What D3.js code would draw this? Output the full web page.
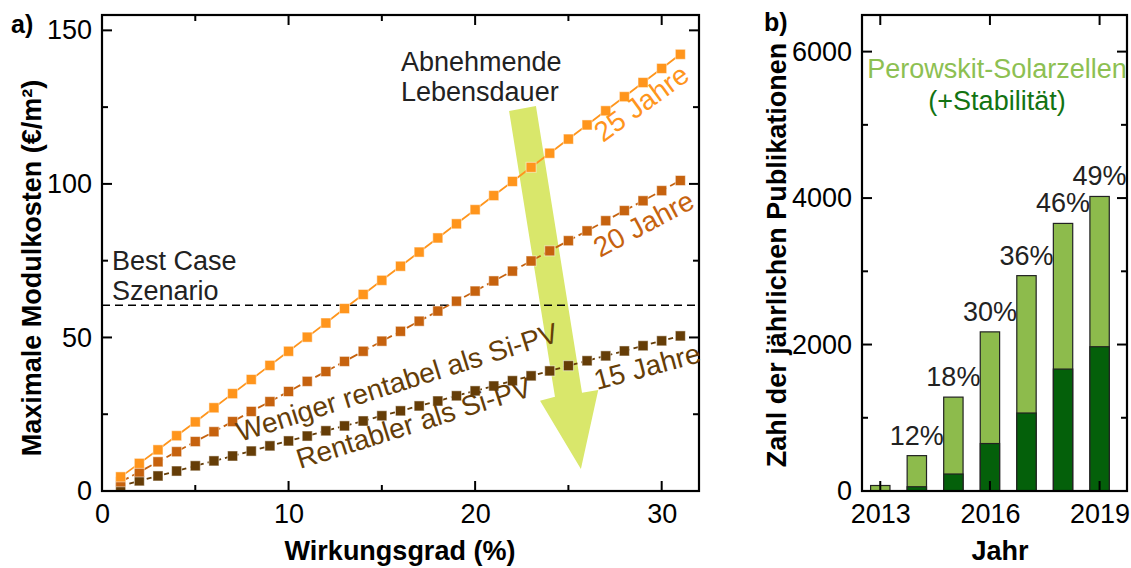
<!DOCTYPE html>
<html><head><meta charset="utf-8">
<script src="https://cdn.jsdelivr.net/npm/d3@7"></script>
<style>
body{margin:0;background:#fff;}
svg text{font-family:"Liberation Sans",Arial,sans-serif;}
</style></head>
<body><svg id="c" width="1131" height="568"></svg>
<script>
// ---------- DATA ----------
const efficiency = [1,2,3,4,5,6,7,8,9,10,11,12,13,14,15,16,17,18,19,20,21,22,23,24,25,26,27,28,29,30,31];
const cost25 = [4.6,9.0,13.4,18.0,22.5,27.1,31.7,36.3,40.9,45.5,50.1,54.7,59.4,64.0,68.6,73.2,77.8,82.4,87.0,91.6,96.2,100.8,105.4,110.0,114.6,119.2,123.8,128.4,133.0,137.6,142.2];
const cost20 = [3.0,6.2,9.5,12.8,16.1,19.3,22.6,25.9,29.1,32.4,35.7,38.9,42.2,45.5,48.8,52.0,55.3,58.6,61.8,65.1,68.4,71.6,74.9,78.2,81.5,84.7,88.0,91.3,94.5,97.8,101.1];
const cost15 = [1.6,3.3,4.9,6.5,8.2,9.8,11.4,13.0,14.7,16.3,17.9,19.6,21.2,22.8,24.5,26.1,27.7,29.3,31.0,32.6,34.2,35.9,37.5,39.1,40.8,42.4,44.0,45.6,47.3,48.9,50.5];
const bestCase = 60.5;
const xTicksA = [0,10,20,30];
const yTicksA = [0,50,100,150];

const years = [2013,2014,2015,2016,2017,2018,2019];
const pubTotal = [75,483,1282,2173,2941,3654,4022];
const pubStability = [4,58,232,648,1065,1665,1970];
const pubPct = ["","12%","18%","30%","36%","46%","49%"];
const xTicksB = [2013,2016,2019];
const yTicksB = [0,2000,4000,6000];

// ---------- SETUP ----------
const svg = d3.select("#c");
const FONT = 27;

const xA = d3.scaleLinear().domain([0,32]).range([102,699]);
const yA = d3.scaleLinear().domain([0,155]).range([491,15]);
const xB = d3.scaleLinear().domain([2012.5,2019.75]).range([862,1127]);
const yB = d3.scaleLinear().domain([0,6500]).range([491,15]);

function frame(g, x, y, xMaj, xMin, yMaj, yMin){
  const fmt = d3.format("d");
  const [x0,x1] = x.range(), [y0,y1] = y.range();
  const ax = d3.axisBottom(x).tickValues(xMaj).tickSize(0).tickPadding(13).tickFormat(fmt);
  const gb = g.append("g").attr("transform",`translate(0,${y0})`).call(ax);
  gb.select(".domain").remove();
  gb.selectAll("text").attr("font-size",FONT).attr("fill","#000").attr("font-family","Liberation Sans, Arial, sans-serif");
  const ay = d3.axisLeft(y).tickValues(yMaj).tickSize(0).tickPadding(10).tickFormat(fmt);
  const gl = g.append("g").attr("transform",`translate(${x0},0)`).call(ay);
  gl.select(".domain").remove();
  gl.selectAll("text").attr("font-size",FONT).attr("fill","#000").attr("font-family","Liberation Sans, Arial, sans-serif");
  const t = g.append("g").attr("stroke","#000").attr("stroke-width",2);
  xMaj.forEach(v=>{ t.append("line").attr("x1",x(v)).attr("x2",x(v)).attr("y1",y0).attr("y2",y0-10);
                    t.append("line").attr("x1",x(v)).attr("x2",x(v)).attr("y1",y1).attr("y2",y1+10); });
  xMin.forEach(v=>{ t.append("line").attr("x1",x(v)).attr("x2",x(v)).attr("y1",y0).attr("y2",y0-6);
                    t.append("line").attr("x1",x(v)).attr("x2",x(v)).attr("y1",y1).attr("y2",y1+6); });
  yMaj.forEach(v=>{ t.append("line").attr("y1",y(v)).attr("y2",y(v)).attr("x1",x0).attr("x2",x0+10);
                    t.append("line").attr("y1",y(v)).attr("y2",y(v)).attr("x1",x1).attr("x2",x1-10); });
  yMin.forEach(v=>{ t.append("line").attr("y1",y(v)).attr("y2",y(v)).attr("x1",x0).attr("x2",x0+6);
                    t.append("line").attr("y1",y(v)).attr("y2",y(v)).attr("x1",x1).attr("x2",x1-6); });
  g.append("rect").attr("x",x0).attr("y",y1).attr("width",x1-x0).attr("height",y0-y1)
    .attr("fill","none").attr("stroke","#000").attr("stroke-width",2.2);
}

// ---------- PANEL A ----------
const gA = svg.append("g");
const arrowPts = [[21.82,123.7],[23.26,125.4],[25.73,32.0],[26.6,32.9],[25.67,7.2],[23.48,29.4],[24.28,30.7]];
gA.append("path").attr("d", d3.line().x(d=>xA(d[0])).y(d=>yA(d[1]))(arrowPts)+"Z")
  .attr("fill","#D9E76B");

gA.append("line").attr("x1",xA(0)).attr("x2",xA(32)).attr("y1",yA(bestCase)).attr("y2",yA(bestCase))
  .attr("stroke","#000").attr("stroke-width",1.6).attr("stroke-dasharray","8,5");

const series = [
  {vals:cost15, color:"#653D07", dash:"5,4"},
  {vals:cost20, color:"#C6620E", dash:"9,4"},
  {vals:cost25, color:"#FF951C", dash:null}
];
series.forEach(s=>{
  const pts = efficiency.map((e,i)=>[e,s.vals[i]]);
  gA.append("path").attr("d", d3.line().x(d=>xA(d[0])).y(d=>yA(d[1]))(pts))
    .attr("fill","none").attr("stroke",s.color).attr("stroke-width",1.8)
    .attr("stroke-dasharray",s.dash);
  gA.selectAll(null).data(pts).enter().append("rect")
    .attr("x",d=>xA(d[0])-5).attr("y",d=>yA(d[1])-5).attr("width",10).attr("height",10)
    .attr("fill",s.color).attr("stroke","#fff").attr("stroke-opacity",0.5).attr("stroke-width",1);
});

frame(gA, xA, yA, xTicksA, [5,15,25], yTicksA, [25,75,125]);

function rtext(g, x, y, ang, txt, color, size){
  g.append("text").attr("transform",`translate(${x},${y}) rotate(${ang})`)
    .attr("font-size",size||FONT).attr("fill",color).text(txt);
}
rtext(gA, 603, 143, -36, "25 Jahre", "#FF951C", 28);
rtext(gA, 600, 258, -28, "20 Jahre", "#C6620E", 28);
rtext(gA, 597, 390, -15, "15 Jahre", "#653D07", 28);
rtext(gA, 240, 442, -17.5, "Weniger rentabel als Si-PV", "#653D07", 28);
rtext(gA, 300, 469, -17.5, "Rentabler als Si-PV", "#653D07", 28);

gA.append("text").attr("x",112).attr("y",270).attr("font-size",FONT).attr("fill","#222").text("Best Case");
gA.append("text").attr("x",112).attr("y",300).attr("font-size",FONT).attr("fill","#222").text("Szenario");
gA.append("text").attr("x",401).attr("y",71).attr("font-size",FONT).attr("fill","#222").text("Abnehmende");
gA.append("text").attr("x",401).attr("y",101).attr("font-size",FONT).attr("fill","#222").text("Lebensdauer");

gA.append("text").attr("x",11).attr("y",33).attr("font-size",25).attr("font-weight","bold").text("a)");
gA.append("text").attr("transform","translate(41,268) rotate(-90)").attr("text-anchor","middle")
  .attr("font-size",27).attr("font-weight","bold").text("Maximale Modulkosten (€/m²)");
gA.append("text").attr("x",400).attr("y",560).attr("text-anchor","middle")
  .attr("font-size",27).attr("font-weight","bold").text("Wirkungsgrad (%)");

// ---------- PANEL B ----------
const gB = svg.append("g");
const bw = 0.53;
gB.selectAll(null).data(years).enter().append("rect")
  .attr("x",(d)=>xB(d-bw/2)).attr("width",xB(bw)-xB(0))
  .attr("y",(d,i)=>yB(pubTotal[i])).attr("height",(d,i)=>yB(0)-yB(pubTotal[i]))
  .attr("fill","#8DBB4C").attr("stroke","#222").attr("stroke-width",1.2);
gB.selectAll(null).data(years).enter().append("rect")
  .attr("x",(d)=>xB(d-bw/2)).attr("width",xB(bw)-xB(0))
  .attr("y",(d,i)=>yB(pubStability[i])).attr("height",(d,i)=>yB(0)-yB(pubStability[i]))
  .attr("fill","#04600A").attr("stroke","#222").attr("stroke-width",1.2);
gB.selectAll(null).data(years).enter().append("text")
  .attr("x",d=>xB(d)).attr("y",(d,i)=>yB(pubTotal[i])-11).attr("text-anchor","middle")
  .attr("font-size",FONT).attr("fill","#222").text((d,i)=>pubPct[i]);

frame(gB, xB, yB, xTicksB, [], yTicksB, [1000,3000,5000]);

gB.append("text").attr("x",997).attr("y",78).attr("text-anchor","middle").attr("font-size",FONT)
  .attr("fill","#8DC052").text("Perowskit-Solarzellen");
gB.append("text").attr("x",997).attr("y",110).attr("text-anchor","middle").attr("font-size",FONT)
  .attr("fill","#127312").text("(+Stabilität)");
gB.append("text").attr("x",764).attr("y",31).attr("font-size",25).attr("font-weight","bold").text("b)");
gB.append("text").attr("transform","translate(786,255) rotate(-90)").attr("text-anchor","middle")
  .attr("font-size",27).attr("font-weight","bold").text("Zahl der jährlichen Publikationen");
gB.append("text").attr("x",1000).attr("y",560).attr("text-anchor","middle")
  .attr("font-size",27).attr("font-weight","bold").text("Jahr");
</script></body></html>
